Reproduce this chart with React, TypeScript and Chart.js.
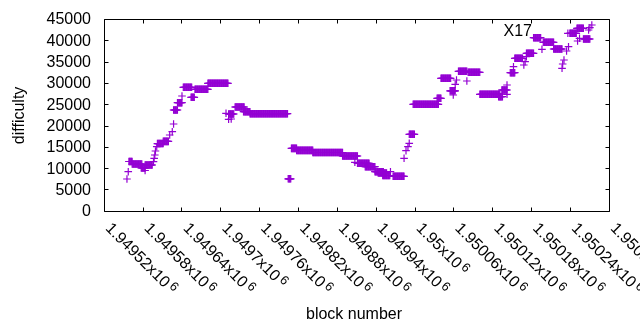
import React, { useEffect, useRef } from 'react';
import { Chart, registerables } from 'chart.js';

Chart.register(...registerables);

// Axis ranges / ticks
const xRange = [1949520, 1950300];
const yRange = [0, 45000];
const xTickValues = [1949520, 1949580, 1949640, 1949700, 1949760, 1949820, 1949880, 1949940, 1950000, 1950060, 1950120, 1950180, 1950240, 1950300];
const xTickLabels = ['1.94952', '1.94958', '1.94964', '1.9497', '1.94976', '1.94982', '1.94988', '1.94994', '1.95', '1.95006', '1.95012', '1.95018', '1.95024', '1.9503'];
const yTickValues = [0, 5000, 10000, 15000, 20000, 25000, 30000, 35000, 40000, 45000];
const yTickLabels = ['0', '5000', '10000', '15000', '20000', '25000', '30000', '35000', '40000', '45000'];

const seriesName = 'X17';
const xTitle = 'block number';
const yTitle = 'difficulty';

// Runs of consecutive blocks sharing the same difficulty
const runStart = [1949558, 1949563, 1949577, 1949583, 1949602, 1949611, 1949627, 1949633, 1949642, 1949654, 1949660, 1949680, 1949712, 1949722, 1949735, 1949745, 1949804, 1949809, 1949817, 1949842, 1949888, 1949911, 1949923, 1949938, 1949943, 1949950, 1949966, 1949991, 1949997, 1950034, 1950040, 1950054, 1950067, 1950082, 1950100, 1950129, 1950134, 1950147, 1950154, 1950172, 1950183, 1950198, 1950214, 1950239, 1950250, 1950260];
const runEnd = [1949563, 1949578, 1949583, 1949594, 1949611, 1949619, 1949633, 1949640, 1949655, 1949659, 1949680, 1949711, 1949720, 1949736, 1949745, 1949803, 1949808, 1949817, 1949842, 1949888, 1949911, 1949929, 1949938, 1949951, 1949956, 1949961, 1949983, 1949999, 1950036, 1950040, 1950055, 1950062, 1950080, 1950100, 1950131, 1950135, 1950142, 1950154, 1950166, 1950183, 1950194, 1950214, 1950227, 1950249, 1950260, 1950270];
const runDiff = [11680, 11100, 10160, 10860, 15900, 16400, 23770, 25480, 29090, 26750, 28620, 30030, 22830, 24470, 23370, 22900, 7620, 14760, 14290, 13800, 12980, 11260, 10460, 9290, 8990, 8400, 8210, 18070, 25100, 26510, 31200, 28270, 32850, 32610, 27450, 26890, 28460, 32520, 35900, 37070, 40730, 39650, 38080, 41760, 42940, 40430];

// Isolated blocks
const pointBlock = [1949555, 1949557, 1949583, 1949596, 1949597, 1949598, 1949599, 1949601, 1949621, 1949625, 1949627, 1949640, 1949708, 1949712, 1949716, 1949907, 1949962, 1949983, 1949986, 1949989, 1949991, 1950059, 1950062, 1950064, 1950080, 1950142, 1950142, 1950152, 1950168, 1950170, 1950172, 1950196, 1950227, 1950228, 1950230, 1950234, 1950237, 1950236, 1950251, 1950254, 1950268, 1950270, 1950273];
const pointDiff = [7580, 9290, 9570, 11640, 12430, 13210, 14150, 15160, 17900, 18680, 20480, 27050, 22990, 21590, 21660, 11500, 9290, 12430, 14220, 15160, 15950, 27290, 29800, 30810, 30570, 29630, 27450, 33930, 34330, 35100, 36270, 38010, 33550, 34560, 35500, 37610, 38620, 41760, 39960, 40590, 42540, 43080, 43710];

const FONT = '"Liberation Sans", Arial, sans-serif';
const COLOR = '#9400d3';

const framePlugin = {
  id: 'gnuframe',
  afterDraw(chart: any) {
    const ctx = chart.ctx as CanvasRenderingContext2D;
    const xs = chart.scales.x;
    const ys = chart.scales.y;
    const ca = chart.chartArea;
    const L = Math.floor(ca.left) + 0.5;
    const R = Math.floor(ca.right) + 0.5;
    const T = Math.floor(ca.top) + 0.5;
    const B = Math.floor(ca.bottom) + 0.5;
    ctx.save();
    ctx.strokeStyle = '#000';
    ctx.lineWidth = 1;
    ctx.beginPath();
    ctx.rect(L, T, R - L, B - T);
    yTickValues.forEach((v) => {
      const py = Math.floor(ys.getPixelForValue(v)) + 0.5;
      ctx.moveTo(L, py); ctx.lineTo(L + 4, py);
      ctx.moveTo(R, py); ctx.lineTo(R - 4, py);
    });
    xTickValues.forEach((v) => {
      const px = Math.floor(xs.getPixelForValue(v)) + 0.5;
      ctx.moveTo(px, B); ctx.lineTo(px, B - 4);
      ctx.moveTo(px, T); ctx.lineTo(px, T + 4);
    });
    ctx.stroke();

    ctx.fillStyle = '#000';
    ctx.font = '16px ' + FONT;
    ctx.textAlign = 'right';
    ctx.textBaseline = 'middle';
    yTickValues.forEach((v, i) => {
      const py = ys.getPixelForValue(v);
      ctx.fillText(yTickLabels[i], 91, py + 0.5);
    });

    xTickValues.forEach((v, i) => {
      const px = xs.getPixelForValue(v);
      ctx.save();
      ctx.translate(px + 3.5, 226);
      ctx.rotate(Math.PI / 4);
      ctx.textAlign = 'left';
      ctx.textBaseline = 'middle';
      ctx.font = '16px ' + FONT;
      const main = xTickLabels[i] + 'x10';
      ctx.fillText(main, 0, 0);
      const w = ctx.measureText(main).width;
      ctx.font = '12.8px ' + FONT;
      ctx.fillText('6', w + 2.5, -3.5);
      ctx.restore();
    });

    ctx.font = '16px ' + FONT;
    ctx.textAlign = 'center';
    ctx.textBaseline = 'middle';
    ctx.fillText(xTitle, 354, 315);
    ctx.save();
    ctx.translate(19.5, 115.4);
    ctx.rotate(-Math.PI / 2);
    ctx.fillText(yTitle, 0, 0);
    ctx.restore();

    ctx.textAlign = 'right';
    ctx.fillText(seriesName, 532, 32);
    ctx.restore();
  },
};

export default function App() {
  const ref = useRef<HTMLCanvasElement>(null);
  useEffect(() => {
    const pts: { x: number; y: number }[] = [];
    for (let i = 0; i < runStart.length; i++) {
      for (let b = runStart[i]; b <= runEnd[i]; b++) pts.push({ x: b, y: runDiff[i] });
    }
    for (let i = 0; i < pointBlock.length; i++) pts.push({ x: pointBlock[i], y: pointDiff[i] });

    const chart = new Chart(ref.current as HTMLCanvasElement, {
      type: 'scatter',
      data: {
        datasets: [
          {
            label: seriesName,
            data: pts,
            pointStyle: 'cross',
            pointRadius: 3.8,
            pointBorderWidth: 1.2,
            borderColor: COLOR,
            backgroundColor: COLOR,
            clip: false as any,
          } as any,
        ],
      },
      options: {
        animation: false,
        responsive: false,
        devicePixelRatio: 1,
        events: [],
        layout: { padding: { left: 104.3, top: 19.5, right: 30.7, bottom: 118.7 } },
        plugins: { legend: { display: false }, tooltip: { enabled: false } },
        scales: {
          x: { type: 'linear', display: false, min: xRange[0], max: xRange[1] },
          y: { type: 'linear', display: false, min: yRange[0], max: yRange[1] },
        },
      },
      plugins: [framePlugin],
    });
    return () => chart.destroy();
  }, []);
  return (
    <div style={{ position: 'absolute', left: 0, top: 0, width: 640, height: 330, background: '#fff' }}>
      <canvas ref={ref} width={640} height={330} style={{ width: 640, height: 330, display: 'block' }} />
    </div>
  );
}
